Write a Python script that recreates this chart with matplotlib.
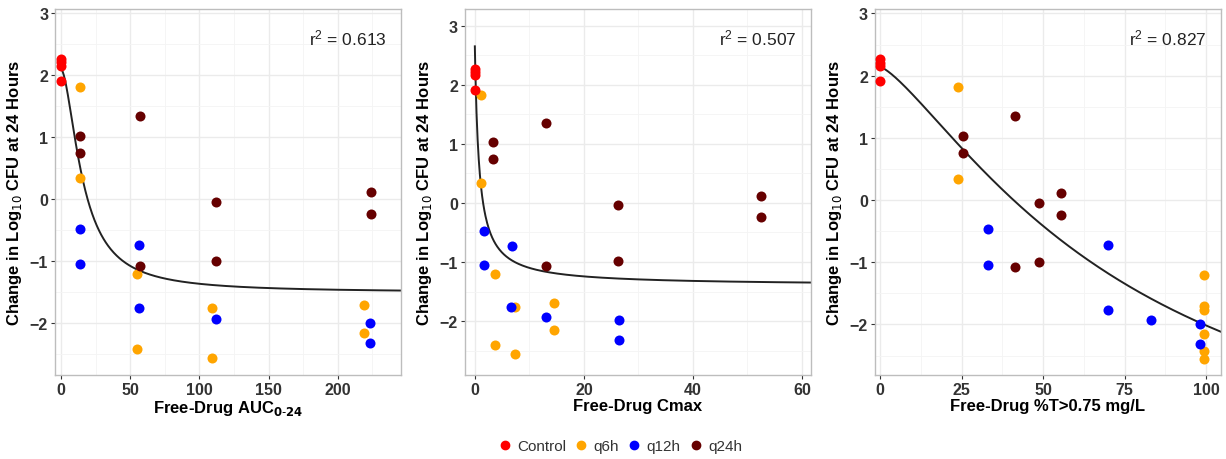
import numpy as np
import matplotlib.pyplot as plt
from matplotlib.lines import Line2D

plt.rcParams['font.family'] = ['Liberation Sans', 'DejaVu Sans']

# change in log10 CFU at 24 h, per regimen (same order in every panel)
ctrl_y = [2.26, 2.21, 2.16, 1.91]
q6h_y = [1.82, 0.34, -1.21, -2.41, -1.76, -2.56, -1.70, -2.15]
q12h_y = [-0.47, -1.05, -0.73, -1.76, -1.93, -1.99, -2.32]
q24h_y = [1.03, 0.75, 1.35, -1.07, -0.04, -0.99, 0.12, -0.24]

# free-drug AUC0-24
ctrl_auc = [0, 0, 0, 0]
q6h_auc = [14, 14, 54.6, 54.6, 109.4, 109.4, 218.8, 218.8]
q12h_auc = [14, 14, 56, 56, 111.8, 223.3, 223.3]
q24h_auc = [14, 14, 57, 57, 112.3, 112.3, 224.3, 224.3]

# free-drug Cmax
ctrl_cmax = [0, 0, 0, 0]
q6h_cmax = [1.05, 1.05, 3.7, 3.7, 7.4, 7.4, 14.5, 14.5]
q12h_cmax = [1.7, 1.7, 6.8, 6.6, 13.1, 26.4, 26.4]
q24h_cmax = [3.4, 3.4, 13.1, 13.1, 26.3, 26.3, 52.4, 52.4]

# free-drug %T>0.75 mg/L
ctrl_t = [0, 0, 0, 0]
q6h_t = [24, 24, 99.5, 99.5, 99.5, 99.5, 99.5, 99.5]
q12h_t = [33, 33, 70, 70, 83, 98, 98]
q24h_t = [25.5, 25.5, 41.3, 41.3, 48.7, 48.7, 55.5, 55.5]
q6h_t_y = [1.82, 0.34, -1.2, -1.70, -1.76, -2.15, -2.42, -2.56]

# fitted Emax model parameters (E0, Emax, EC50, Hill) and r2
fits = [(2.1, 3.6, 15.9, 1.75), (2.65, 4.05, 0.8, 1.0), (2.14, 7.14, 77.8, 1.32)]
r2 = ['0.613', '0.507', '0.827']

colors = {'Control': '#FF0000', 'q6h': '#FFA500', 'q12h': '#0000FF', 'q24h': '#660000'}

panels = [
    (ctrl_auc, q6h_auc, q12h_auc, q24h_auc, q6h_y, 'Free-Drug AUC$_{\\mathbf{0\\text{-}24}}$',
     (-4.3, 245.5), [0, 50, 100, 150, 200], (-2.83, 3.07)),
    (ctrl_cmax, q6h_cmax, q12h_cmax, q24h_cmax, q6h_y, 'Free-Drug Cmax',
     (-1.8, 61.6), [0, 20, 40, 60], (-2.91, 3.28)),
    (ctrl_t, q6h_t, q12h_t, q24h_t, q6h_t_y, 'Free-Drug %T>0.75 mg/L',
     (-1.6, 104.5), [0, 25, 50, 75, 100], (-2.81, 3.07)),
]

fig = plt.figure(figsize=(12.26, 4.6), dpi=100)
lefts = [0.0449, 0.3793, 0.7137]

for i, (cx, ox, bx, dx, oy, xlab, xlim, xt, ylim) in enumerate(panels):
    ax = fig.add_axes([lefts[i], 0.183, 0.282, 0.795])
    ax.set_xticks(xt)
    ax.set_xticks([(a + b) / 2 for a, b in zip(xt[:-1], xt[1:])] + [xt[-1] + (xt[1] - xt[0]) / 2], minor=True)
    ax.set_yticks([-2, -1, 0, 1, 2, 3])
    ax.set_yticks([-2.5, -1.5, -0.5, 0.5, 1.5, 2.5], minor=True)
    ax.grid(True, which='major', color='#EBEBEB', lw=1.0)
    ax.grid(True, which='minor', color='#F4F4F4', lw=0.6)
    ax.set_axisbelow(True)
    for s in ax.spines.values():
        s.set_color('#BDBDBD')
        s.set_linewidth(1.0)
    ax.tick_params(which='major', length=3, color='#333333', labelsize=11.5, labelcolor='#333333', pad=2)
    ax.tick_params(which='minor', length=0)
    for lbl in ax.get_xticklabels() + ax.get_yticklabels():
        lbl.set_fontweight('bold')

    e0, emax, ec50, h = fits[i]
    xs = np.linspace(0, xlim[1], 600)
    ys = e0 - emax * xs ** h / (ec50 ** h + xs ** h)
    ax.plot(xs, ys, color='#222222', lw=1.4, zorder=2)

    ms = 52
    ax.scatter(ox, oy, s=ms, color=colors['q6h'], zorder=3, lw=0)
    ax.scatter(bx, q12h_y, s=ms, color=colors['q12h'], zorder=3, lw=0)
    ax.scatter(dx, q24h_y, s=ms, color=colors['q24h'], zorder=3, lw=0)
    ax.scatter(cx, ctrl_y, s=ms, color=colors['Control'], zorder=3, lw=0)

    ax.set_xlim(*xlim)
    ax.set_ylim(*ylim)

    ax.set_xlabel(xlab, fontsize=12, fontweight='bold', labelpad=1)
    ax.set_ylabel('Change in Log$_{10}$ CFU at 24 Hours', fontsize=12, fontweight='bold', labelpad=4)
    ax.text(0.96, 0.95, '$\\mathregular{r^2}$ = ' + r2[i], transform=ax.transAxes,
            ha='right', va='top', fontsize=12.5, color='#222222')

handles = [Line2D([0], [0], marker='o', ls='none', markersize=6, color=c, label=k)
           for k, c in colors.items()]
fig.legend(handles=handles, loc='center', bbox_to_anchor=(0.506, 0.028), ncol=4, frameon=False,
           fontsize=11, handlelength=0.8, handletextpad=0.4, columnspacing=0.6, labelcolor='#333333')

fig.savefig('out.png', dpi=100)
